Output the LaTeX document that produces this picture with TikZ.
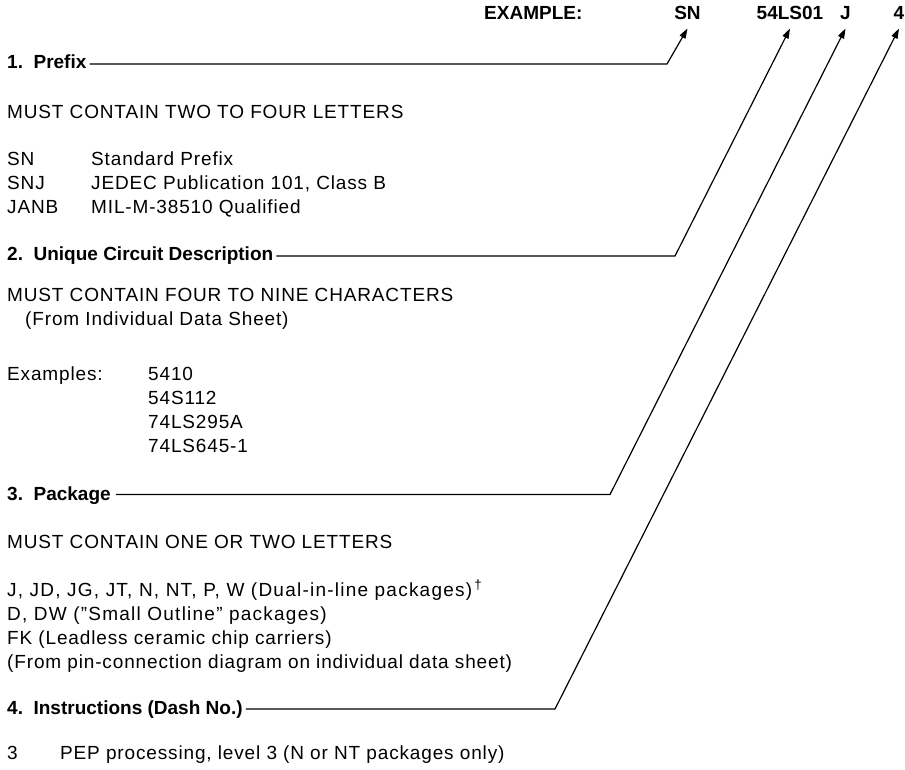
\documentclass[tikz,border=0pt]{standalone}
\usepackage{fontspec}
\setmainfont{Liberation Sans}[LetterSpace=4.5]
\newfontfamily\hdfont{Liberation Sans}
\usetikzlibrary{arrows.meta,positioning}

\begin{document}
\begin{tikzpicture}[x=1pt,y=-1pt,
        txt/.style={anchor=base west, inner sep=0pt, font=\fontsize{19}{23}\selectfont},
        wide/.style={txt, font=\fontsize{19}{23}\selectfont\addfontfeature{LetterSpace=6.5}},
        head/.style={txt, font=\fontsize{19}{23}\hdfont\bfseries},
        code/.style={anchor=base, inner sep=0pt, font=\fontsize{19}{23}\hdfont\bfseries},
        lead/.style={line width=1.2pt, -{Triangle[length=10pt,width=6.5pt]}}]
                \useasboundingbox (0,0) rectangle (905,769);

                % example part number
                \node[head] (example) at (484,19.5) {EXAMPLE:};
                \node[code] (sn) at (687.5,19.5) {SN};
                \node[code] (circ) at (790,19.5) {54LS01};
                \node[code] (pkg) at (845.5,19.5) {J};
                \node[code] (dash) at (899,19.5) {4};

                % 1. prefix
                \node[head] (prefix) at (7,68) {1.\ \ Prefix};
                \node[txt] (must1) at (7,118) {MUST CONTAIN TWO TO FOUR LETTERS};
                \node[txt] (sn1) at (7,165) {SN};
                \node[txt] (sn2) at (7,189) {SNJ};
                \node[txt] (sn3) at (7,213) {JANB};
                \node[txt] (snd1) at (91,165) {Standard Prefix};
                \node[txt] (snd2) at (91,189) {JEDEC Publication 101, Class B};
                \node[txt] (snd3) at (91,213) {MIL-M-38510 Qualified};

                % 2. circuit
                \node[head] (unique) at (7,260) {2.\ \ Unique Circuit Description};
                \node[txt] (must2) at (7,301) {MUST CONTAIN FOUR TO NINE CHARACTERS};
                \node[txt] (from1) at (25,325) {(From Individual Data Sheet)};
                \node[txt] (exm) at (7,380) {Examples:};
                \node[txt] (ex1) at (148,380) {5410};
                \node[txt] (ex2) at (148,404) {54S112};
                \node[txt] (ex3) at (148,428) {74LS295A};
                \node[txt] (ex4) at (148,452) {74LS645-1};

                % 3. package
                \node[head] (package) at (7,500) {3.\ \ Package};
                \node[txt] (must3) at (7,548) {MUST CONTAIN ONE OR TWO LETTERS};
                \node[wide] (pk1) at (7,596) {J, JD, JG, JT, N, NT, P, W (Dual-in-line packages)\textsuperscript{\,\textdagger}};
                \node[wide] (pk2) at (7,620) {D, DW (''Small Outline'' packages)};
                \node[txt] (pk3) at (7,644) {FK (Leadless ceramic chip carriers)};
                \node[txt] (pk4) at (7,668) {(From pin-connection diagram on individual data sheet)};

                % 4. dash number
                \node[head] (instr) at (7,714) {4.\ \ Instructions (Dash No.)};
                \node[txt] (pep1) at (7,759) {3};
                \node[txt] (pep2) at (60,759) {PEP processing, level 3 (N or NT packages only)};

                % leaders
                \coordinate (t1) at ([yshift=-9pt]sn.base);
                \coordinate (t2) at ([yshift=-9pt]circ.base);
                \coordinate (t3) at ([yshift=-9pt]pkg.base);
                \coordinate (t4) at ([yshift=-9pt]dash.base);
                \coordinate (k1) at (667,64);
                \coordinate (k2) at (675,256);
                \coordinate (k3) at (610,494.5);
                \coordinate (k4) at (555,709);
                \coordinate (s1) at ([xshift=3pt]prefix.base east);
                \coordinate (s2) at ([xshift=3pt]unique.base east);
                \coordinate (s3) at ([xshift=5pt]package.base east);
                \coordinate (s4) at ([xshift=3pt]instr.base east);

                \draw[lead] (s1 |- k1) -- (k1) -- (t1);
                \draw[lead] (s2 |- k2) -- (k2) -- (t2);
                \draw[lead] (s3 |- k3) -- (k3) -- (t3);
                \draw[lead] (s4 |- k4) -- (k4) -- (t4);
\end{tikzpicture}
\end{document}
